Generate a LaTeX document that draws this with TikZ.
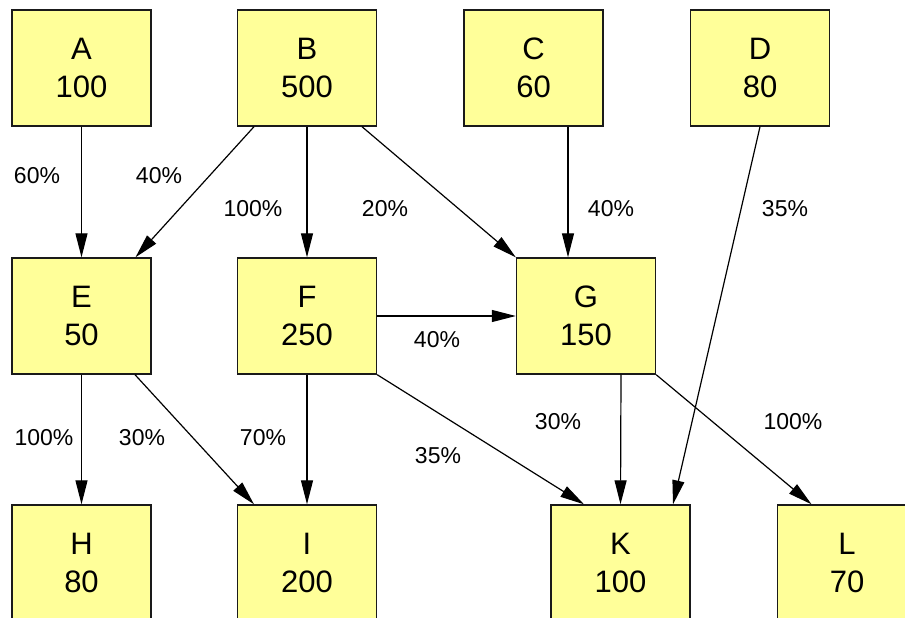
\documentclass[tikz,border=0pt]{standalone}
\usepackage{fontspec}
\setmainfont{Liberation Sans}
\usetikzlibrary{arrows.meta}
\definecolor{boxfill}{HTML}{FFFF99}
\definecolor{boxline}{HTML}{1A1A1A}
\tikzset{
  box/.style={draw=boxline, line width=1.4pt, fill=boxfill, minimum width=139pt, minimum height=116pt,
    inner sep=0pt, align=center, font=\fontsize{31}{38}\selectfont},
  lbl/.style={font=\fontsize{23}{25}\selectfont, inner sep=0pt},
  arr/.style={line width=1.2pt, -{Triangle[length=24pt,width=12pt]}}
}
\begin{document}
\begin{tikzpicture}[x=1pt,y=-1pt]
\useasboundingbox (0,0) rectangle (905,618);
\clip (0,0) rectangle (905,618);
\fill[white] (0,0) rectangle (905,618);
% nodes
\node[box] (A) at (81.5,68) {A\\100};
\node[box] (B) at (307,68) {B\\500};
\node[box] (C) at (533.5,68) {C\\60};
\node[box] (D) at (760,68) {D\\80};
\node[box] (E) at (81.5,316) {E\\50};
\node[box] (F) at (307,316) {F\\250};
\node[box] (G) at (586,316) {G\\150};
\node[box] (H) at (81.5,563) {H\\80};
\node[box] (I) at (307,563) {I\\200};
\node[box] (K) at (620.5,563) {K\\100};
\node[box] (L) at (847,563) {L\\70};
% edges
\draw[arr] (A.south) -- (E.north);
\draw[arr] ([xshift=-53pt]B.south) -- ([xshift=54pt]E.north);
\draw[arr] (B.south) -- (F.north);
\draw[arr] ([xshift=55pt]B.south) -- (G.north west);
\draw[arr] ([xshift=34.5pt]C.south) -- ([xshift=-18pt]G.north);
\draw[arr] (D.south) -- ([xshift=52.5pt]K.north);
\draw[arr] (F.east) -- (G.west);
\draw[arr] (E.south) -- (H.north);
\draw[arr] ([xshift=53.5pt]E.south) -- ([xshift=-53pt]I.north);
\draw[arr] (F.south) -- (I.north);
\draw[arr] (F.south east) -- ([xshift=-36.5pt]K.north);
\draw[arr] ([xshift=35pt]G.south) -- (K.north);
\draw[arr] (G.south east) -- ([xshift=-35.5pt]L.north);
% labels
\node[lbl] (l1) at (37,176) {60\%};
\node[lbl] (l2) at (159,176) {40\%};
\node[lbl] (l3) at (253,209) {100\%};
\node[lbl] (l4) at (385,209) {20\%};
\node[lbl] (l5) at (611,209) {40\%};
\node[lbl] (l6) at (785,209) {35\%};
\node[lbl] (l7) at (437,340) {40\%};
\node[lbl] (l8) at (44,438) {100\%};
\node[lbl] (l9) at (142,438) {30\%};
\node[lbl] (l10) at (263,438) {70\%};
\node[lbl] (l11) at (438,456) {35\%};
\node[lbl] (l12) at (558,422) {30\%};
\node[lbl] (l13) at (793,422) {100\%};
\end{tikzpicture}
\end{document}
